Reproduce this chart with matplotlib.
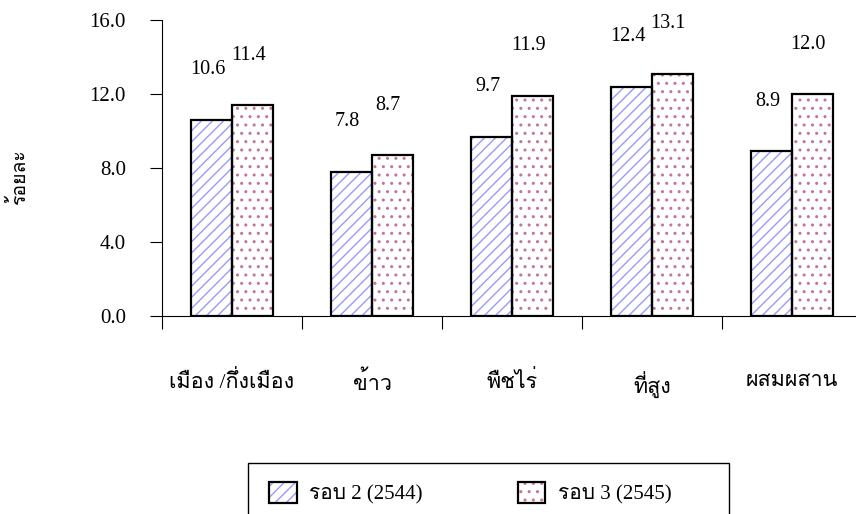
import matplotlib
matplotlib.use("Agg")
import matplotlib.pyplot as plt
import numpy as np
from matplotlib import font_manager, ft2font
from matplotlib.patches import Patch, Rectangle
from matplotlib.legend_handler import HandlerTuple

# data
categories = ["เมือง /กึ่งเมือง", "ข้าว", "พืชไร่", "ที่สูง", "ผสมผสาน"]
round2 = [10.6, 7.8, 9.7, 12.4, 8.9]
round3 = [11.4, 8.7, 11.9, 13.1, 12.0]
series_names = ["รอบ 2 (2544)", "รอบ 3 (2545)"]
yticks = [0, 4, 8, 12, 16]
ylabel = "ร้อยละ"

# find a font that has thai glyphs
thai_font = None
for f in font_manager.fontManager.ttflist:
    try:
        if ord("ร") in ft2font.FT2Font(f.fname).get_charmap():
            thai_font = f.name
            break
    except Exception:
        pass
fams = ["Liberation Serif"]
if thai_font:
    fams.append(thai_font)
fams.append("DejaVu Sans")
plt.rcParams["font.family"] = fams
plt.rcParams["hatch.linewidth"] = 1.0

blue = "#9a9aff"
pink = "#c27399"

fig = plt.figure(figsize=(8.56, 5.14), dpi=100)
ax = fig.add_axes([162/856, 198/514, 700/856, 296/514])

x = np.arange(len(categories))
w = 0.29
# hatch layers
ax.bar(x - w/2, round2, w, facecolor="white", edgecolor=blue, hatch="///", lw=0)
ax.bar(x + w/2, round3, w, facecolor="white", edgecolor=pink, hatch="..", lw=0)
# outlines
ax.bar(x - w/2, round2, w, fill=False, edgecolor="black", lw=1.6)
ax.bar(x + w/2, round3, w, fill=False, edgecolor="black", lw=1.6)

for xs, vals in ((x - w/2, round2), (x + w/2, round3)):
    for xi, v in zip(xs, vals):
        ax.annotate(f"{v:.1f}", (xi, v), xytext=(-3, 36), textcoords="offset points",
                    ha="center", va="center", fontsize=14.5)

ax.set_xlim(-0.5, 4.5)
ax.set_ylim(0, 16)
ax.set_yticks(yticks)
ax.set_yticklabels([f"{t:.1f}" for t in yticks], fontsize=15)
ax.tick_params(axis="y", length=9, width=0.8, pad=17)
ax.set_xticks(x)
ax.set_xticklabels(categories, fontsize=15.5)
ax.tick_params(axis="x", which="major", length=0, pad=40)
ax.set_xticks(np.arange(-0.5, 5, 1), minor=True)
ax.tick_params(axis="x", which="minor", length=9, width=0.8)
for s in ("top", "right"):
    ax.spines[s].set_visible(False)
ax.spines["left"].set_linewidth(0.8)
ax.spines["bottom"].set_linewidth(0.8)
ax.set_ylabel(ylabel, fontsize=14)
ax.yaxis.set_label_coords(-0.19, 0.47)

# legend
h1 = (Patch(facecolor="white", edgecolor=blue, hatch="///", lw=0),
      Patch(fill=False, edgecolor="black", lw=1.6))
h2 = (Patch(facecolor="white", edgecolor=pink, hatch="..", lw=0),
      Patch(fill=False, edgecolor="black", lw=1.6))
fig.legend([h1, h2], series_names, handler_map={tuple: HandlerTuple(ndivide=1)},
           ncol=2, frameon=False, fontsize=15, loc="center left",
           bbox_to_anchor=(259/856, 1 - 493/514), handlelength=1.3, handleheight=1.2,
           handletextpad=0.6, columnspacing=4.6, borderpad=0)
fig.add_artist(Rectangle((248/856, -0.1), (729 - 248)/856, 0.1 + 51/514,
                         transform=fig.transFigure, fill=False, lw=1, edgecolor="black"))

fig.savefig("out.png", dpi=100)
